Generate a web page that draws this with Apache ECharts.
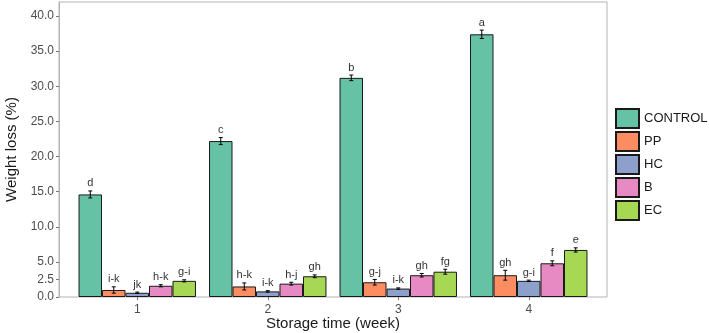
<!DOCTYPE html>
<html>
<head>
<meta charset="utf-8">
<script src="https://cdn.jsdelivr.net/npm/echarts@6/dist/echarts.min.js"></script>
<style>
	html, body { margin: 0; padding: 0; background: #fff; }
	#main { width: 709px; height: 333px; }
</style>
</head>
<body>
<div id="main"></div>
<script>
	// 数据
	var weeks = [ '1', '2', '3', '4' ];
	var treatments = [ 'CONTROL', 'PP', 'HC', 'B', 'EC' ];
	var colors = [ '#66C2A5', '#FC8D62', '#8DA0CB', '#E78AC3', '#A6D854' ];
	var yTicks = [ 0, 2.5, 5, 10, 15, 20, 25, 30, 35, 40 ];

	var control = [ 14.6, 22.2, 31.2, 37.4 ];
	var pp = [ 1.0, 1.5, 2.1, 3.1 ];
	var hc = [ 0.6, 0.8, 1.2, 2.3 ];
	var b = [ 1.6, 1.9, 3.1, 4.8 ];
	var ec = [ 2.3, 2.95, 3.6, 6.7 ];

	var controlErr = [ 0.5, 0.5, 0.4, 0.6 ];
	var ppErr = [ 0.45, 0.5, 0.4, 0.7 ];
	var hcErr = [ 0.1, 0.1, 0.1, 0.1 ];
	var bErr = [ 0.15, 0.2, 0.25, 0.35 ];
	var ecErr = [ 0.15, 0.2, 0.35, 0.3 ];

	var controlLetters = [ 'd', 'c', 'b', 'a' ];
	var ppLetters = [ 'i-k', 'h-k', 'g-j', 'gh' ];
	var hcLetters = [ 'jk', 'i-k', 'i-k', 'g-i' ];
	var bLetters = [ 'h-k', 'h-j', 'gh', 'f' ];
	var ecLetters = [ 'g-i', 'gh', 'fg', 'e' ];

	var values = [ control, pp, hc, b, ec ];
	var errors = [ controlErr, ppErr, hcErr, bErr, ecErr ];
	var letters = [ controlLetters, ppLetters, hcLetters, bLetters, ecLetters ];

	var myChart = echarts.init(document.getElementById('main'));

	var series = [];
	treatments.forEach(function(name, i) {
		series.push({
			name : name,
			type : 'bar',
			xAxisIndex : 0,
			yAxisIndex : 0,
			barGap : '0%',
			barCategoryGap : '10%',
			itemStyle : {
				color : colors[i],
				borderColor : '#1a1a1a',
				borderWidth : 1
			},
			emphasis : { disabled : true },
			data : values[i]
		});
	});
	// 误差线和字母
	treatments.forEach(function(name, i) {
		var data = values[i].map(function(v, k) {
			return [ k, v, errors[i][k], letters[i][k] ];
		});
		series.push({
			name : name + ' err',
			type : 'custom',
			xAxisIndex : 0,
			yAxisIndex : 0,
			z : 5,
			silent : true,
			renderItem : function(params, api) {
				var cat = api.value(0);
				var mean = api.value(1);
				var err = api.value(2);
				var band = api.size([ 1, 0 ])[0];
				var bw = band * 0.9 / 5;
				var off = (i - 2) * bw;
				var top = api.coord([ cat, mean + err ]);
				var bot = api.coord([ cat, mean - err ]);
				var x = top[0] + off;
				var cap = 2;
				var st = { stroke : '#000', lineWidth : 1 };
				return {
					type : 'group',
					children : [ {
						type : 'line',
						shape : { x1 : x, y1 : top[1], x2 : x, y2 : bot[1] },
						style : st
					}, {
						type : 'line',
						shape : { x1 : x - cap, y1 : top[1], x2 : x + cap, y2 : top[1] },
						style : st
					}, {
						type : 'line',
						shape : { x1 : x - cap, y1 : bot[1], x2 : x + cap, y2 : bot[1] },
						style : st
					}, {
						type : 'text',
						style : {
							text : letters[i][params.dataIndex],
							x : x,
							y : top[1] - 2,
							align : 'center',
							verticalAlign : 'bottom',
							fill : '#333',
							fontSize : 11,
							fontFamily : 'Liberation Sans, Arial, sans-serif'
						}
					} ]
				};
			},
			data : data
		});
	});

	var option = {
		animation : false,
		textStyle : { fontFamily : 'Liberation Sans, Arial, sans-serif' },
		legend : {
			data : treatments,
			orient : 'vertical',
			left : 610,
			top : 103,
			itemWidth : 23,
			itemHeight : 19,
			itemGap : 2,
			icon : 'rect',
			selectedMode : false,
			textStyle : { fontSize : 13, color : '#1a1a1a' }
		},
		grid : [ {
			left : 72,
			right : 115,
			top : 2,
			bottom : 36,
			outerBoundsMode : 'none',
			containLabel : false
		}, {
			left : 59,
			right : 102,
			top : 2,
			bottom : 36,
			outerBoundsMode : 'none',
			containLabel : false,
			show : true,
			borderColor : '#b3b3b3',
			borderWidth : 1,
			backgroundColor : 'transparent'
		} ],
		xAxis : [ {
			type : 'category',
			gridIndex : 0,
			data : weeks,
			axisLine : { show : false },
			axisTick : { show : true, alignWithLabel : true, length : 3, lineStyle : { color : '#777' } },
			axisLabel : { fontSize : 12, color : '#4d4d4d', margin : 7 },
			name : 'Storage time (week)',
			nameLocation : 'middle',
			nameMoveOverlap : false,
			nameGap : 19,
			nameTextStyle : { fontSize : 15, color : '#1a1a1a' }
		}, {
			type : 'value',
			gridIndex : 1,
			show : false,
			min : 0,
			max : 1
		} ],
		yAxis : [ {
			type : 'value',
			gridIndex : 0,
			min : 0,
			max : 42,
			show : false
		}, {
			type : 'value',
			gridIndex : 1,
			min : 0,
			max : 42,
			splitLine : { show : false },
			axisLine : { show : true, lineStyle : { color : '#b3b3b3' } },
			axisTick : { show : true, length : 3, customValues : yTicks, lineStyle : { color : '#777' } },
			axisLabel : {
				customValues : yTicks,
				fontSize : 12,
				color : '#4d4d4d',
				margin : 5,
				formatter : function(v) {
					return v.toFixed(1);
				}
			},
			name : 'Weight loss (%)',
			nameLocation : 'middle',
			nameMoveOverlap : false,
			nameGap : 40,
			nameTextStyle : { fontSize : 15, color : '#1a1a1a' }
		} ],
		series : series
	};

	myChart.setOption(option);
</script>
</body>
</html>
